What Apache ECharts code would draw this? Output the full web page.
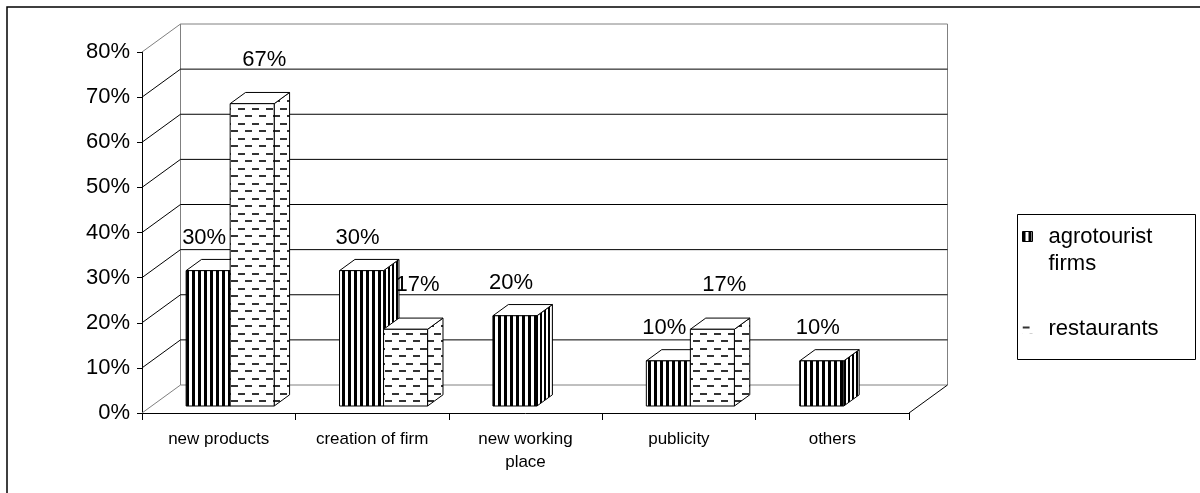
<!DOCTYPE html>
<html>
<head>
<meta charset="utf-8">
<script src="https://cdn.jsdelivr.net/npm/echarts@6/dist/echarts.min.js"></script>
<style>
  html, body { margin: 0; padding: 0; background: #fff; }
  #chart { width: 1200px; height: 493px; }
</style>
</head>
<body>
<div id="chart"></div>
<script>
// data
const categories = ['new products', 'creation of firm', 'new working\nplace', 'publicity', 'others'];
const agrotourist = [30, 30, 20, 10, 10];
const restaurants = [67, 17, null, 17, null];
const yTicks = [0, 10, 20, 30, 40, 50, 60, 70, 80];
const seriesNames = ['agrotourist firms', 'restaurants'];

// fake 3d: depth vector of the box and where the bars sit inside it
const DX = 38.5, DY = -28;
const F0 = 0.25, F1 = 0.65;
const BAR_OFFSET = 0.225, BAR_WIDTH = 0.287;
const FONT = 'Liberation Sans, Arial, sans-serif';

function makePattern(w, h, draw) {
  const c = document.createElement('canvas');
  c.width = w; c.height = h;
  const ctx = c.getContext('2d');
  ctx.fillStyle = '#fff';
  ctx.fillRect(0, 0, w, h);
  draw(ctx);
  return { image: c, repeat: 'repeat' };
}
const stripeFront = makePattern(6, 4, ctx => { ctx.fillStyle = '#000'; ctx.fillRect(0, 0, 3, 4); });
const stripeSide = makePattern(4, 4, ctx => { ctx.fillStyle = '#000'; ctx.fillRect(0, 0, 2, 4); });
const dashFill = makePattern(14, 15, ctx => {
  ctx.fillStyle = '#333';
  ctx.fillRect(0, 3, 7, 2);
  ctx.fillRect(7, 10, 7, 2);
});

function renderWall(params, api) {
  const v = api.value(1);
  const cs = params.coordSys;
  const y = api.coord([0, v])[1];
  const edge = (v === yTicks[0] || v === yTicks[yTicks.length - 1]);
  const col = edge ? '#808080' : '#000';
  const children = [
    { type: 'line', shape: { x1: cs.x, y1: y, x2: cs.x + DX, y2: y + DY }, style: { stroke: col, lineWidth: 1 } },
    { type: 'line', shape: { x1: cs.x + DX, y1: y + DY, x2: cs.x + cs.width + DX, y2: y + DY }, style: { stroke: col, lineWidth: 1 } }
  ];
  if (v === yTicks[0]) {
    children.push(
      { type: 'line', shape: { x1: cs.x + DX, y1: y + DY, x2: cs.x + DX, y2: cs.y + DY }, style: { stroke: '#808080', lineWidth: 1 } },
      { type: 'line', shape: { x1: cs.x + cs.width + DX, y1: y + DY, x2: cs.x + cs.width + DX, y2: cs.y + DY }, style: { stroke: '#808080', lineWidth: 1 } },
      { type: 'line', shape: { x1: cs.x + cs.width, y1: y, x2: cs.x + cs.width + DX, y2: y + DY }, style: { stroke: '#000', lineWidth: 1 } }
    );
  }
  return { type: 'group', children: children };
}

function makeBarRenderer(slot, fillFront, fillSide, labelDx, labelDy) {
  return function (params, api) {
    const c = api.value(0), v = api.value(1);
    const base = api.coord([c, 0]);
    const top = api.coord([c, v]);
    const band = api.size([1, 0])[0];
    const x0 = base[0] - band / 2 + (BAR_OFFSET + slot * BAR_WIDTH) * band + F0 * DX;
    const w = BAR_WIDTH * band;
    const yb = base[1] + F0 * DY;
    const yt = top[1] + F0 * DY;
    const ddx = (F1 - F0) * DX, ddy = (F1 - F0) * DY;
    return {
      type: 'group',
      children: [
        { type: 'polygon', shape: { points: [[x0 + w, yb], [x0 + w + ddx, yb + ddy], [x0 + w + ddx, yt + ddy], [x0 + w, yt]] },
          style: { fill: fillSide, stroke: '#000', lineWidth: 1 } },
        { type: 'polygon', shape: { points: [[x0, yt], [x0 + w, yt], [x0 + w + ddx, yt + ddy], [x0 + ddx, yt + ddy]] },
          style: { fill: '#fff', stroke: '#000', lineWidth: 1 } },
        { type: 'rect', shape: { x: x0, y: yt, width: w, height: yb - yt },
          style: { fill: fillFront, stroke: '#000', lineWidth: 1 } },
        { type: 'text', style: { text: v + '%', x: x0 + w / 2 + labelDx, y: yt + labelDy, align: 'center', verticalAlign: 'middle',
          fontSize: 22, fontFamily: FONT, fill: '#000' } }
      ]
    };
  };
}

function pairs(arr) {
  return arr.map((v, i) => [i, v]).filter(d => d[1] != null);
}

const chart = echarts.init(document.getElementById('chart'));
chart.setOption({
  animation: false,
  backgroundColor: '#fff',
  graphic: [
    { type: 'rect', shape: { x: 7, y: 7, width: 1300, height: 600 }, style: { fill: 'none', stroke: '#000', lineWidth: 1.5 } },
    { type: 'rect', shape: { x: 1017.5, y: 214.5, width: 178, height: 145 }, style: { fill: 'none', stroke: '#000', lineWidth: 1 } }
  ],
  legend: {
    orient: 'vertical',
    left: 1022,
    top: 196,
    padding: 0,
    itemGap: 38,
    itemWidth: 10,
    itemHeight: 10,
    selectedMode: false,
    // blank first line keeps the icon level with "agrotourist"
    formatter: name => (name === seriesNames[0] ? ' \nagrotourist\nfirms' : name),
    textStyle: { fontSize: 22, lineHeight: 27, fontFamily: FONT, color: '#000', padding: [0, 0, 0, 11] },
    data: [
      { name: seriesNames[0], icon: 'rect', itemStyle: { color: stripeFront, borderColor: '#000', borderWidth: 1 } },
      { name: seriesNames[1], icon: 'rect', itemStyle: { color: dashFill, borderWidth: 0 } }
    ]
  },
  grid: { left: 142, right: 291, top: 52, bottom: 80 },
  xAxis: {
    type: 'category',
    data: categories,
    axisLine: { lineStyle: { color: '#000', width: 1 } },
    axisTick: { show: true, interval: 0, length: 7, lineStyle: { color: '#000' } },
    axisLabel: { interval: 0, fontSize: 17, lineHeight: 23, margin: 15, color: '#000', fontFamily: FONT },
    splitLine: { show: false }
  },
  yAxis: {
    type: 'value',
    min: 0,
    max: 80,
    interval: 10,
    axisLine: { show: true, lineStyle: { color: '#000', width: 1 } },
    axisTick: { show: true, length: 5, lineStyle: { color: '#000' } },
    axisLabel: { fontSize: 22, margin: 12, color: '#000', fontFamily: FONT, formatter: '{value}%' },
    splitLine: { show: false }
  },
  series: [
    {
      name: 'walls',
      type: 'custom',
      renderItem: renderWall,
      data: yTicks.map(v => [0, v]),
      silent: true
    },
    {
      name: seriesNames[0],
      type: 'custom',
      renderItem: makeBarRenderer(0, stripeFront, stripeSide, -4, -33),
      itemStyle: { color: '#000' },
      data: pairs(agrotourist)
    },
    {
      name: seriesNames[1],
      type: 'custom',
      renderItem: makeBarRenderer(1, dashFill, dashFill, 12, -44),
      itemStyle: { color: '#444' },
      data: pairs(restaurants)
    }
  ]
});
</script>
</body>
</html>
